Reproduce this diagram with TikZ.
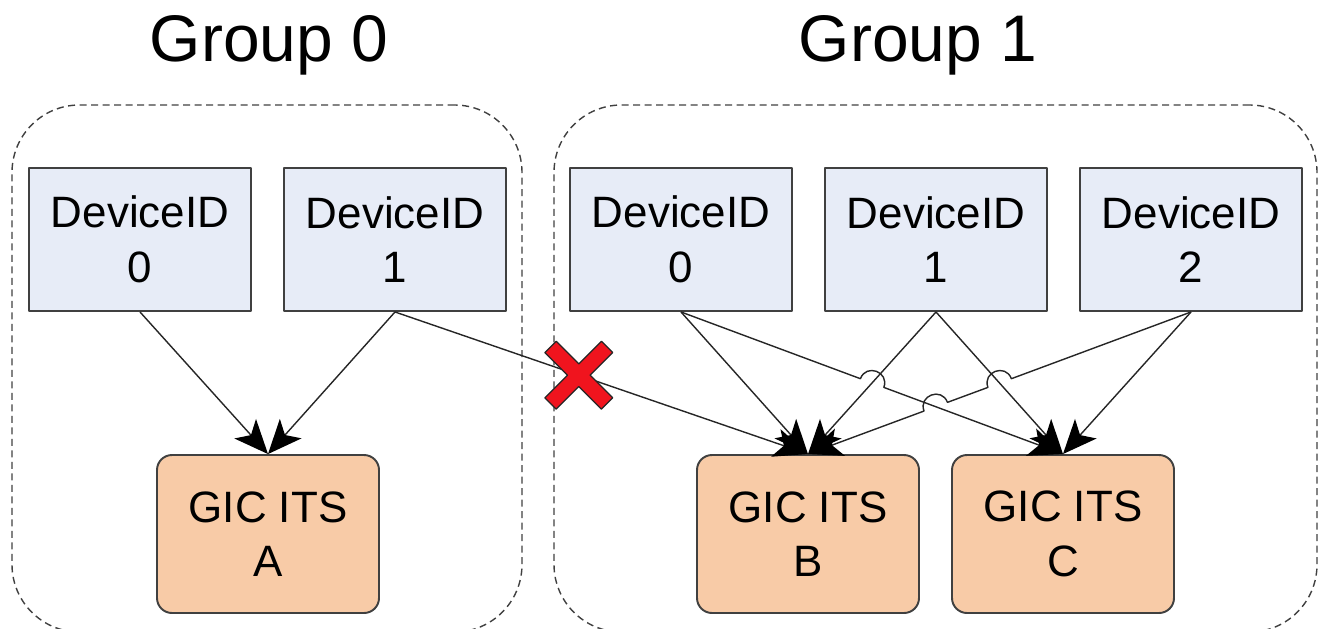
\documentclass[tikz,border=0pt]{standalone}
\usepackage{fontspec}
\setmainfont{Liberation Sans}
\usepackage{tikz}
\usetikzlibrary{arrows.meta,calc}

\definecolor{devfill}{RGB}{231,236,247}
\definecolor{itsfill}{RGB}{248,203,167}
\definecolor{boxline}{RGB}{64,64,64}
\definecolor{crossred}{RGB}{240,20,30}

\begin{document}
\begin{tikzpicture}[line join=round,
group_style/.style={draw=black!75, dash pattern=on 0.14cm off 0.09cm, line width=0.8pt, rounded corners=1.35cm, minimum height=10.54cm, inner sep=0pt},
dev_style/.style={rectangle, draw=boxline, fill=devfill, line width=1.1pt, minimum width=4.44cm, minimum height=2.86cm, inner sep=0pt, align=center, font=\fontsize{25}{31}\selectfont},
its_style/.style={dev_style, fill=itsfill, rounded corners=0.3cm, minimum height=3.16cm},
label_style/.style={font=\fontsize{37.5}{45}\selectfont, anchor=base},
edge_style/.style={draw=black!85, line width=0.8pt, -{Stealth[length=0.68cm, width=0.58cm, inset=0.17cm, black]}},
hop_left/.style={bend left=90, looseness=1.7},
hop_right/.style={bend right=90, looseness=1.7}]
\useasboundingbox (0,0) rectangle (26.42,-12.56);

% groups
\node[group_style, minimum width=10.2cm] (grp0) at (5.34,-7.37) {};
\node[group_style, minimum width=15.26cm] (grp1) at (18.71,-7.37) {};
\node[label_style] (lbl0) at (5.38,-1.24) {Group 0};
\node[label_style] (lbl1) at (18.36,-1.24) {Group 1};

% devices
\node[dev_style] (g0d0) at (2.80,-4.79) {DeviceID\\0};
\node[dev_style] (g0d1) at (7.90,-4.79) {DeviceID\\1};
\node[dev_style] (g1d0) at (13.62,-4.79) {DeviceID\\0};
\node[dev_style] (g1d1) at (18.72,-4.79) {DeviceID\\1};
\node[dev_style] (g1d2) at (23.82,-4.79) {DeviceID\\2};

% ITS
\node[its_style] (its_a) at (5.36,-10.68) {GIC ITS\\A};
\node[its_style] (its_b) at (16.16,-10.68) {GIC ITS\\B};
\node[its_style] (its_c) at (21.26,-10.68) {GIC ITS\\C};

% crossings
\coordinate (x1) at (intersection of g1d0.south--its_c.north and g1d1.south--its_b.north);
\coordinate (x2) at (intersection of g1d2.south--its_b.north and g1d1.south--its_c.north);
\coordinate (x3) at (intersection of g1d2.south--its_b.north and g1d0.south--its_c.north);

\draw[edge_style] (g0d0.south) -- (its_a.north);
\draw[edge_style] (g0d1.south) -- (its_a.north);
\draw[edge_style] (g0d1.south) -- (its_b.north);
\draw[edge_style] (g1d0.south) -- (its_b.north);
\draw[edge_style] (g1d0.south) -- ($(x1)!0.25cm!(g1d0.south)$)
  to[hop_left] ($(x1)!0.25cm!(its_c.north)$) -- (its_c.north);
\draw[edge_style] (g1d1.south) -- (its_b.north);
\draw[edge_style] (g1d1.south) -- (its_c.north);
\draw[edge_style] (g1d2.south) -- ($(x2)!0.25cm!(g1d2.south)$)
  to[hop_right] ($(x2)!0.25cm!(its_b.north)$)
  -- ($(x3)!0.25cm!(g1d2.south)$)
  to[hop_right] ($(x3)!0.25cm!(its_b.north)$) -- (its_b.north);
\draw[edge_style] (g1d2.south) -- (its_c.north);

% blocked path
\coordinate (block) at ($(g0d1.south)!0.445!(its_b.north)$);
\begin{scope}[shift={(block)}, rotate=45]
\filldraw[fill=crossred, draw=black!85, line width=0.7pt]
  (0.8,0.16) -- (0.16,0.16) -- (0.16,0.8) -- (-0.16,0.8) -- (-0.16,0.16)
  -- (-0.8,0.16) -- (-0.8,-0.16) -- (-0.16,-0.16) -- (-0.16,-0.8)
  -- (0.16,-0.8) -- (0.16,-0.16) -- (0.8,-0.16) -- cycle;
\end{scope}
\end{tikzpicture}
\end{document}
